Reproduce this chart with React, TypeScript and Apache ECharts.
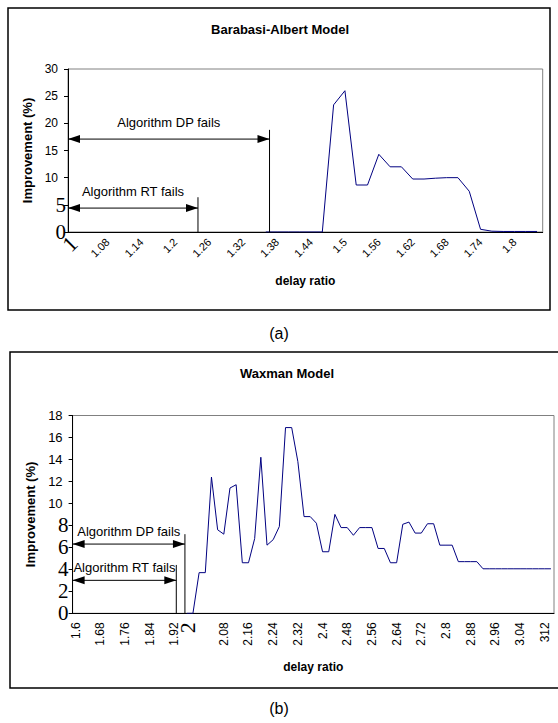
import React, { useEffect, useRef } from "react";
import * as echarts from "echarts";

// ---------- Data: (a) Barabasi-Albert Model ----------
const ratioA = [
  "1.02", "1.04", "1.06", "1.08", "1.1", "1.12", "1.14", "1.16", "1.18", "1.2",
  "1.22", "1.24", "1.26", "1.28", "1.3", "1.32", "1.34", "1.36", "1.38", "1.4",
  "1.42", "1.44", "1.46", "1.48", "1.5", "1.52", "1.54", "1.56", "1.58", "1.6",
  "1.62", "1.64", "1.66", "1.68", "1.7", "1.72", "1.74", "1.76", "1.78", "1.8",
  "1.82", "1.84",
];
const improvementA = [
  null, null, null, null, null, null, null, null, null, null,
  null, null, null, null, null, null, null, 0, 0, 0,
  0, 0, 0, 23.4, 26, 8.65, 8.65, 14.3, 12.0, 12.0,
  9.75, 9.75, 9.9, 10.0, 10.0, 7.5, 0.5, 0.15, 0.1, 0.1,
  0.1, 0.1,
];
const serifTicksA = [0, 5];

// ---------- Data: (b) Waxman Model ----------
const ratioB = [
  "1.6", "1.62", "1.64", "1.66", "1.68", "1.7", "1.72", "1.74", "1.76", "1.78",
  "1.8", "1.82", "1.84", "1.86", "1.88", "1.9", "1.92", "1.94", "1.96", "1.98",
  "2", "2.02", "2.04", "2.06", "2.08", "2.1", "2.12", "2.14", "2.16", "2.18",
  "2.2", "2.22", "2.24", "2.26", "2.28", "2.3", "2.32", "2.34", "2.36", "2.38",
  "2.4", "2.42", "2.44", "2.46", "2.48", "2.5", "2.52", "2.54", "2.56", "2.58",
  "2.6", "2.62", "2.64", "2.66", "2.68", "2.7", "2.72", "2.74", "2.76", "2.78",
  "2.8", "2.82", "2.84", "2.86", "2.88", "2.9", "2.92", "2.94", "2.96", "2.98",
  "3", "3.02", "3.04", "3.06", "3.08", "3.1", "312", "3.14",
];
const improvementB = [
  null, null, null, null, null, null, null, null, null, null,
  null, null, null, null, null, null, null, null, 0, 0,
  3.7, 3.7, 12.4, 7.6, 7.2, 11.4, 11.7, 4.6, 4.6, 6.8,
  14.2, 6.2, 6.7, 7.9, 16.9, 16.9, 13.8, 8.8, 8.8, 8.2,
  5.6, 5.6, 9.0, 7.8, 7.8, 7.1, 7.8, 7.8, 7.8, 5.9,
  5.9, 4.6, 4.6, 8.1, 8.3, 7.3, 7.3, 8.15, 8.15, 6.2,
  6.2, 6.2, 4.7, 4.7, 4.7, 4.7, 4.05, 4.05, 4.05, 4.05,
  4.05, 4.05, 4.05, 4.05, 4.05, 4.05, 4.05, 4.05,
];
const serifTicksB = [0, 2, 4, 6, 8];

// Failure annotations (x in category-index units, y in value units)
const notesA = [
  { text: "Algorithm DP fails", endAt: 17.33, arrowAt: 17.1, stemTop: 18.8, textAt: 20.1 },
  { text: "Algorithm RT fails", endAt: 11.0, arrowAt: 4.4, stemTop: 6.4, textAt: 7.5 },
];
const notesB = [
  { text: "Algorithm DP fails", endAt: 17.7, arrowAt: 6.3, stemTop: 7.2, textAt: 7.4 },
  { text: "Algorithm RT fails", endAt: 16.3, arrowAt: 3.0, stemTop: 4.4, textAt: 4.2 },
];

const SANS = "'Liberation Sans', Arial, sans-serif";
const SERIF = "'Liberation Serif', 'Times New Roman', serif";

function yAxisFor(grid: number, max: number, interval: number, serif: number[], fs: number, pad: number) {
  return {
    type: "value",
    gridIndex: grid,
    min: 0,
    max,
    interval,
    name: "Improvement (%)",
    nameLocation: "middle",
    nameRotate: 90,
    nameGap: grid === 0 ? 31 : 32,
    nameTextStyle: { fontFamily: SANS, fontWeight: "bold", fontSize: 13, color: "#000" },
    axisLine: { show: true, lineStyle: { color: "#000", width: 1 } },
    axisTick: { show: true, length: 4, lineStyle: { color: "#000" } },
    splitLine: { show: false },
    axisLabel: {
      margin: grid === 0 ? 2 : 4,
      color: "#000",
      formatter: (v: number) => (serif.indexOf(v) >= 0 ? `{big|${v}}` : `{n|${v}}`),
      rich: {
        n: { fontFamily: SANS, fontSize: fs, color: "#000", padding: [0, pad, 0, 0] },
        big: { fontFamily: SERIF, fontSize: 21, color: "#000" },
      },
    },
  };
}

export default function App() {
  const ref = useRef<HTMLDivElement>(null);
  useEffect(() => {
    if (!ref.current) return;
    const chart = echarts.init(ref.current, undefined, { renderer: "svg" });
    const option: any = {
      animation: false,
      backgroundColor: "#fff",
      grid: [
        { left: 68, top: 69, width: 474.7, height: 163, show: true, borderColor: "#808080", borderWidth: 1, backgroundColor: "transparent" },
        { left: 72.6, top: 415.5, width: 481.4, height: 197.8, show: true, borderColor: "#808080", borderWidth: 1, backgroundColor: "transparent" },
      ],
      xAxis: [
        {
          type: "category",
          gridIndex: 0,
          data: ratioA,
          boundaryGap: true,
          name: "delay ratio",
          nameLocation: "middle",
          nameGap: 43,
          nameTextStyle: { fontFamily: SANS, fontWeight: "bold", fontSize: 12, color: "#000" },
          axisLine: { lineStyle: { color: "#000", width: 1 } },
          axisTick: { interval: 0, length: 4, lineStyle: { color: "#000" } },
          axisLabel: {
            interval: 2,
            rotate: 45,
            margin: 8,
            color: "#000",
            formatter: (v: string, i: number) => (i === 0 ? "{big|1}" : `{n|${v}}`),
            rich: {
              n: { fontFamily: SANS, fontSize: 11, color: "#000" },
              big: { fontFamily: SERIF, fontSize: 22, color: "#000" },
            },
          },
        },
        {
          type: "category",
          gridIndex: 1,
          data: ratioB,
          boundaryGap: true,
          name: "delay ratio",
          nameLocation: "middle",
          nameGap: 48,
          nameTextStyle: { fontFamily: SANS, fontWeight: "bold", fontSize: 12, color: "#000" },
          axisLine: { lineStyle: { color: "#000", width: 1 } },
          axisTick: { interval: 0, length: 4, lineStyle: { color: "#000" } },
          axisLabel: {
            interval: 3,
            rotate: 90,
            margin: 9,
            color: "#000",
            formatter: (v: string, i: number) => (i === 20 ? "{big|2}" : `{n|${v}}`),
            rich: {
              n: { fontFamily: SANS, fontSize: 12, color: "#000" },
              big: { fontFamily: SERIF, fontSize: 22, color: "#000", lineHeight: 46, verticalAlign: "top" },
            },
          },
        },
      ],
      yAxis: [yAxisFor(0, 30, 5, serifTicksA, 12, 8), yAxisFor(1, 18, 2, serifTicksB, 13, 6)],
      series: [
        {
          type: "line",
          xAxisIndex: 0,
          yAxisIndex: 0,
          data: improvementA,
          showSymbol: false,
          symbol: "none",
          connectNulls: false,
          lineStyle: { color: "#000080", width: 1 },
        },
        {
          type: "line",
          xAxisIndex: 1,
          yAxisIndex: 1,
          data: improvementB,
          showSymbol: false,
          symbol: "none",
          connectNulls: false,
          lineStyle: { color: "#000080", width: 1 },
        },
      ],
    };
    chart.setOption(option);

    const graphics: any[] = [];
    // frames
    graphics.push({ type: "rect", shape: { x: 8, y: 8, width: 542, height: 302 }, style: { fill: "none", stroke: "#000", lineWidth: 1.5 }, z: 0 });
    graphics.push({ type: "rect", shape: { x: 10, y: 352, width: 560, height: 336 }, style: { fill: "none", stroke: "#000", lineWidth: 1.5 }, z: 0 });
    const txt = (text: string, x: number, y: number, font: string) => ({
      type: "text",
      x,
      y,
      style: { text, font, fill: "#000", align: "center", verticalAlign: "middle", textAlign: "center", textVerticalAlign: "middle" },
      z: 10,
    });
    graphics.push(txt("Barabasi-Albert Model", 280, 29, `bold 13px ${SANS}`));
    graphics.push(txt("Waxman Model", 287, 373, `bold 13px ${SANS}`));
    graphics.push(txt("(a)", 279, 333, `16px ${SANS}`));
    graphics.push(txt("(b)", 279, 708, `16px ${SANS}`));

    const addNotes = (grid: number, cats: string[], notes: typeof notesA) => {
      const c0 = chart.convertToPixel({ xAxisIndex: grid } as any, cats[0]) as unknown as number;
      const c1 = chart.convertToPixel({ xAxisIndex: grid } as any, cats[1]) as unknown as number;
      const step = c1 - c0;
      const axisX = c0 - step / 2;
      const y0 = chart.convertToPixel({ yAxisIndex: grid } as any, 0) as unknown as number;
      notes.forEach((n) => {
        const xe = c0 + n.endAt * step;
        const ya = chart.convertToPixel({ yAxisIndex: grid } as any, n.arrowAt) as unknown as number;
        const ys = chart.convertToPixel({ yAxisIndex: grid } as any, n.stemTop) as unknown as number;
        const yt = chart.convertToPixel({ yAxisIndex: grid } as any, n.textAt) as unknown as number;
        graphics.push({ type: "line", shape: { x1: axisX, y1: ya, x2: xe, y2: ya }, style: { stroke: "#000", lineWidth: 1 }, z: 10 });
        graphics.push({ type: "line", shape: { x1: xe, y1: ys, x2: xe, y2: y0 }, style: { stroke: "#000", lineWidth: 1 }, z: 10 });
        graphics.push({ type: "polygon", shape: { points: [[axisX, ya], [axisX + 12, ya - 4], [axisX + 12, ya + 4]] }, style: { fill: "#000" }, z: 10 });
        graphics.push({ type: "polygon", shape: { points: [[xe, ya], [xe - 12, ya - 4], [xe - 12, ya + 4]] }, style: { fill: "#000" }, z: 10 });
        graphics.push(txt(n.text, (axisX + xe) / 2, yt, `13px ${SANS}`));
      });
    };
    addNotes(0, ratioA, notesA);
    addNotes(1, ratioB, notesB);
    chart.setOption({ graphic: graphics });

    return () => chart.dispose();
  }, []);
  return <div ref={ref} style={{ position: "absolute", left: 0, top: 0, width: 558, height: 723 }} />;
}
